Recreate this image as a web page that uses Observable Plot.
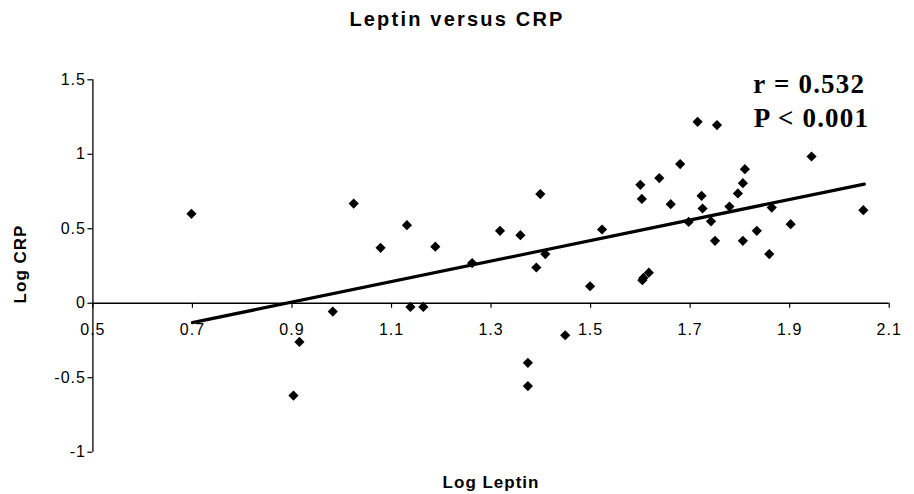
<!DOCTYPE html>
<html>
<head>
<meta charset="utf-8">
<script src="https://cdn.jsdelivr.net/npm/d3@7"></script>
<script src="https://cdn.jsdelivr.net/npm/@observablehq/plot@0.6"></script>
<style>
  body { margin: 0; background: #fff; }
  #title {
    height: 40px; box-sizing: border-box; padding-top: 9px;
    text-align: center; color: #000;
    font: bold 20px "Liberation Sans", Arial, sans-serif; line-height: 20px;
    letter-spacing: 2.2px;
  }
  #chart text { letter-spacing: 1px; }
</style>
</head>
<body>
<div id="title">Leptin versus CRP</div>
<div id="chart"></div>
<script>
// Log Leptin (x) and Log CRP (y)
const leptin = [0.698, 0.915, 0.903, 0.982, 1.024, 1.078, 1.131, 1.138, 1.164, 1.188,
                1.262, 1.318, 1.359, 1.374, 1.374, 1.399, 1.391, 1.409, 1.449, 1.499,
                1.523, 1.600, 1.603, 1.638, 1.661, 1.680, 1.715, 1.754, 1.697, 1.723,
                1.725, 1.742, 1.750, 1.779, 1.796, 1.806, 1.810, 1.806, 1.834, 1.859,
                1.864, 1.902, 1.944, 2.048, 1.606, 1.617, 1.604];
const crp    = [0.600, -0.260, -0.620, -0.056, 0.669, 0.372, 0.524, -0.025, -0.025, 0.380,
                0.270, 0.486, 0.457, -0.400, -0.556, 0.733, 0.240, 0.330, -0.215, 0.114,
                0.495, 0.795, 0.700, 0.840, 0.665, 0.934, 1.218, 1.196, 0.546, 0.721,
                0.636, 0.550, 0.419, 0.649, 0.737, 0.806, 0.900, 0.419, 0.486, 0.330,
                0.642, 0.531, 0.985, 0.625, 0.170, 0.205, 0.155];
// regression line end points
const fitX = [0.70, 2.05];
const fitY = [-0.13, 0.80];
// ticks and labels
const xTicks = [0.5, 0.7, 0.9, 1.1, 1.3, 1.5, 1.7, 1.9, 2.1];
const yTicks = [-1, -0.5, 0, 0.5, 1, 1.5];
const xLabel = "Log Leptin";
const yLabel = "Log CRP";
const statR = "r = 0.532";
const statP = "P < 0.001";

const points = leptin.map((x, i) => ({x, y: crp[i]}));
const fit = fitX.map((x, i) => ({x, y: fitY[i]}));
const x0 = xTicks[0], x1 = xTicks[xTicks.length - 1];
const y0 = yTicks[0], y1 = yTicks[yTicks.length - 1];
const serif = "'Liberation Serif', 'Times New Roman', serif";

const chart = Plot.plot({
  width: 914,
  height: 454,
  marginTop: 39.3,
  marginBottom: 42.3,
  marginLeft: 92.4,
  marginRight: 25.3,
  style: {fontFamily: "'Liberation Sans', Arial, sans-serif", color: "#000", background: "#fff", overflow: "visible"},
  x: {domain: [x0, x1], axis: null},
  y: {domain: [y0, y1]},
  marks: [
    Plot.axisY({ticks: yTicks, tickFormat: d => String(d), tickSize: 5, tickPadding: 2, fontSize: 16, label: null, strokeWidth: 1.2}),
    Plot.ruleX([x0], {y1: y0, y2: y1, strokeWidth: 1.3}),
    Plot.ruleY([0], {x1: x0, x2: x1, strokeWidth: 1.3}),
    Plot.ruleX(xTicks, {x: d => d, y1: 0, y2: 0, insetBottom: -5, strokeWidth: 1.2}),
    Plot.text(xTicks, {x: d => d, y: 0, dy: 27, text: d => String(d), fontSize: 16, lineAnchor: "middle"}),
    Plot.line(fit, {x: "x", y: "y", stroke: "#000", strokeWidth: 3.2}),
    Plot.dot(points, {x: "x", y: "y", symbol: "diamond2", r: 4.6, fill: "#000", stroke: "none"}),
    Plot.text([yLabel], {text: d => d, frameAnchor: "left", textAnchor: "middle", dx: -72, dy: -2, rotate: -90, fontSize: 17, fontWeight: "bold", lineAnchor: "middle"}),
    Plot.text([xLabel], {text: d => d, frameAnchor: "bottom", textAnchor: "middle", dy: 30, fontSize: 17, fontWeight: "bold", lineAnchor: "middle"}),
    Plot.text([statR], {text: d => d, frameAnchor: "top-right", textAnchor: "end", lineAnchor: "middle", dx: -24, dy: 4.2, fontSize: 27, fontWeight: "bold", fontFamily: serif}),
    Plot.text([statP], {text: d => d, frameAnchor: "top-right", textAnchor: "end", lineAnchor: "middle", dx: -20, dy: 38.2, fontSize: 27, fontWeight: "bold", fontFamily: serif})
  ]
});
document.getElementById("chart").appendChild(chart);
// stats annotation is set a little looser, as in the reference
d3.select(chart).selectAll("text")
  .filter(function () { return this.textContent === statR || this.textContent === statP; })
  .style("letter-spacing", "1.2px");
</script>
</body>
</html>
